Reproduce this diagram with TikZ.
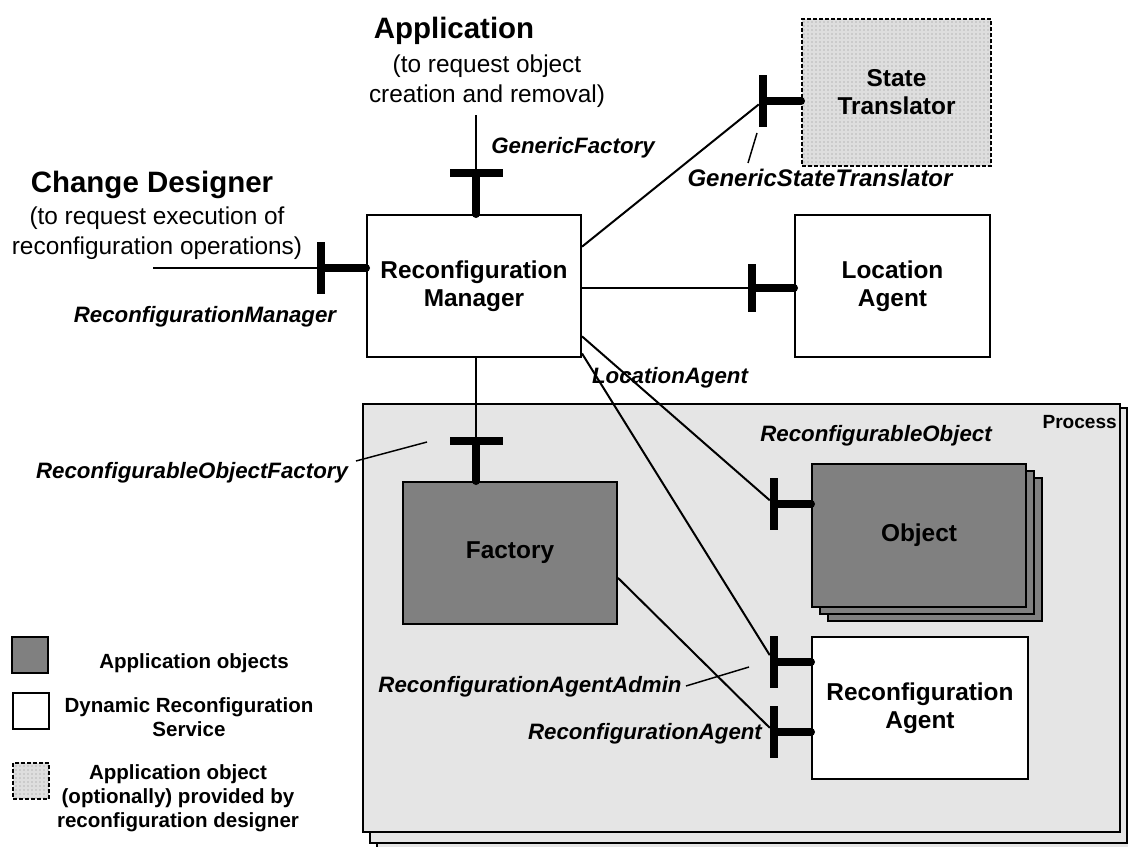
\documentclass[tikz,border=0pt]{standalone}
\usepackage{fontspec}
\setmainfont{Liberation Sans}
\usetikzlibrary{calc,patterns}

\newcommand{\pxu}{0.75pt}

\tikzset{
  box/.style={draw, line width=1.5pt, fill=white, inner sep=0pt, align=center,
    font=\fontsize{18.3}{21}\selectfont\bfseries},
  appbox/.style={box, fill=black!50},
  optbox/.style={box, pattern=dots, pattern color=black!45,
    preaction={fill=black!13}, dash pattern=on 3pt off 1.5pt},
  proc/.style={draw, line width=1.5pt, fill=black!10},
  vbar/.style={fill=black, inner sep=0pt, minimum width=8*\pxu, minimum height=52*\pxu},
  hbar/.style={fill=black, inner sep=0pt, minimum width=53*\pxu, minimum height=8*\pxu},
  stem/.style={line width=6pt, line cap=round},
  wire/.style={line width=1.5pt},
  leader/.style={line width=1.1pt},
  ifname/.style={font=\fontsize{16.7}{19}\selectfont\bfseries\itshape, inner sep=0pt, anchor=base},
  actor/.style={font=\fontsize{22.1}{25}\selectfont\bfseries, inner sep=0pt, anchor=base},
  note/.style={font=\fontsize{18.3}{22}\selectfont, inner sep=0pt, align=center, anchor=base},
  legend/.style={font=\fontsize{15.4}{18}\selectfont\bfseries, inner sep=0pt, align=center, anchor=base},
}

\begin{document}
\begin{tikzpicture}[x=\pxu, y=-\pxu]
  \useasboundingbox (0,0) rectangle (1128,846);

  % process (stacked)
  \draw[proc] (377,414) rectangle (1134,856);
  \draw[proc] (370,408) rectangle (1127,843);
  \node[proc, inner sep=0pt, minimum width=757*\pxu, minimum height=428*\pxu] (proc) at (741.5,618) {};
  \node[font=\fontsize{14.3}{16}\selectfont\bfseries, inner sep=0pt, anchor=base east] (procname) at (1117,428) {Process};

  % components
  \node[box, minimum width=214*\pxu, minimum height=142*\pxu] (mgr) at (474,286) {Reconfiguration\\Manager};
  \node[box, minimum width=195*\pxu, minimum height=142*\pxu] (loc) at (892.5,286) {Location\\Agent};
  \node[optbox, minimum width=189*\pxu, minimum height=147*\pxu] (st) at (896.5,92.5) {State\\Translator};
  \node[appbox, minimum width=214*\pxu, minimum height=142*\pxu] (fac) at (510,553) {Factory};
  \node[appbox, minimum width=214*\pxu, minimum height=143*\pxu] (obj3) at (935,549.5) {};
  \node[appbox, minimum width=214*\pxu, minimum height=143*\pxu] (obj2) at (927,542.5) {};
  \node[appbox, minimum width=214*\pxu, minimum height=143*\pxu] (obj) at (919,535.5) {Object};
  \node[box, minimum width=216*\pxu, minimum height=142*\pxu] (agt) at (920,708) {Reconfiguration\\Agent};

  % interfaces
  \node[vbar] (rmif) at (321,268) {};
  \node[hbar] (gfif) at (476,173) {};
  \node[vbar] (gstif) at (763,101) {};
  \node[vbar, minimum height=48*\pxu] (laif) at (752,288) {};
  \node[hbar] (rofif) at (476,441) {};
  \node[vbar] (roif) at (774,504) {};
  \node[vbar] (raaif) at (774,662) {};
  \node[vbar] (raif) at (774,732) {};
  \begin{scope}[stem]
    \draw (rmif.center) -- (rmif.center -| mgr.west);
    \draw (gfif.center) -- (gfif.center |- mgr.north);
    \draw (gstif.center) -- (gstif.center -| st.west);
    \draw (laif.center) -- (laif.center -| loc.west);
    \draw (rofif.center) -- (rofif.center |- fac.north);
    \draw (roif.center) -- (roif.center -| obj.west);
    \draw (raaif.center) -- (raaif.center -| agt.west);
    \draw (raif.center) -- (raif.center -| agt.west);
  \end{scope}

  % clients
  \node[actor] (cdname) at (152,192) {Change Designer};
  \node[note] (cdnote) at (157,254) {(to request execution of\\reconfiguration operations)};
  \node[actor] (appname) at (454,38) {Application};
  \node[note] (appnote) at (487,102) {(to request object\\creation and removal)};
  \coordinate (cd) at (153,268);
  \coordinate (app) at (476,115);

  \begin{scope}[wire]
    \draw (cd) -- (rmif);
    \draw (app) -- (gfif);
    \draw (mgr.20) -- (gstif);
    \draw (mgr.east |- laif) -- (laif);
    \draw (rofif |- mgr.south) -- (rofif);
    \draw (mgr.-25) -- (roif);
    \draw (mgr.-32) -- (raaif);
    \draw (fac.-13) -- (raif);
  \end{scope}

  % interface names
  \node[ifname] (rmname) at (205,322) {ReconfigurationManager};
  \node[ifname] (gfname) at (573,153) {GenericFactory};
  \node[ifname, font=\fontsize{18}{20}\selectfont\bfseries\itshape] (gstname) at (820,186) {GenericStateTranslator};
  \node[ifname] (laname) at (670,383) {LocationAgent};
  \node[ifname] (rofname) at (192,478) {ReconfigurableObjectFactory};
  \node[ifname] (roname) at (876,441) {ReconfigurableObject};
  \node[ifname] (raaname) at (530,692) {ReconfigurationAgentAdmin};
  \node[ifname] (raname) at (645,739) {ReconfigurationAgent};
  \coordinate (gstlead) at (757,133);
  \coordinate (gstfoot) at (748,163);
  \coordinate (roflead) at (427,442);
  \coordinate (roffoot) at (356,461);
  \coordinate (raalead) at (749,667);
  \coordinate (raafoot) at (686,686);
  \begin{scope}[leader]
    \draw (gstfoot) -- (gstlead);
    \draw (roffoot) -- (roflead);
    \draw (raafoot) -- (raalead);
  \end{scope}

  % legend
  \node[appbox, minimum size=36*\pxu] (lgapp) at (30,655) {};
  \node[box, minimum size=36*\pxu] (lgdrs) at (31,710.5) {};
  \node[optbox, minimum size=36*\pxu] (lgopt) at (31,780.5) {};
  \node[legend] (lgapptxt) at (194,668) {Application objects};
  \node[legend] (lgdrstxt) at (189,736) {Dynamic Reconfiguration\\Service};
  \node[legend] (lgopttxt) at (178,827) {Application object\\(optionally) provided by\\reconfiguration designer};
\end{tikzpicture}
\end{document}
